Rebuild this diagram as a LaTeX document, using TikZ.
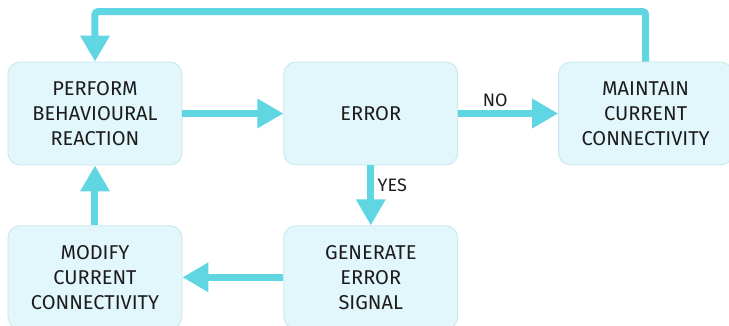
\documentclass[tikz,border=0pt]{standalone}
\usepackage{fontspec}
\setmainfont{Fira Sans}
\usepackage{tikz}
\usetikzlibrary{positioning,arrows.meta}
\usepackage{xcolor}
\definecolor{flowcyan}{RGB}{96,214,226}
\definecolor{boxfill}{RGB}{226,247,251}
\definecolor{boxline}{RGB}{198,230,238}
\definecolor{ink}{RGB}{28,28,28}

\begin{document}
\begin{tikzpicture}[x=1pt,y=1pt,
  box/.style={draw=boxline,fill=boxfill,line width=0.8pt,rounded corners=12pt,
    minimum width=174pt,minimum height=103pt,align=center,text=ink,
    font=\fontsize{20}{25}\selectfont},
  flow/.style={draw=flowcyan,line width=7pt,-{Triangle[length=26pt,width=28pt]}},
  lbl/.style={text=ink,font=\fontsize{18}{22}\selectfont}]
\useasboundingbox (-95,113.5) rectangle (634,-212.5);
% top row
\node[box] (perform) at (0,0) {PERFORM\\BEHAVIOURAL\\REACTION};
\node[box,right=101pt of perform] (error) {ERROR};
\node[box,right=100pt of error] (maintain) {MAINTAIN\\CURRENT\\CONNECTIVITY};
% bottom row
\node[box,below=60pt of error] (generate) {GENERATE\\ERROR\\SIGNAL};
\node[box,below=60pt of perform] (modify) {MODIFY\\CURRENT\\CONNECTIVITY};
% connectors
\draw[flow] (perform) -- (error);
\draw[flow] (error) -- node[lbl,above,pos=0.37]{NO} (maintain);
\draw[flow] (error) -- node[lbl,right,pos=0.33]{YES} (generate);
\draw[flow] (generate) -- (modify);
\draw[flow] (modify) -- (perform);
\draw[flow,rounded corners=3pt] (maintain.north) -- ++(0,50) -| (perform.north);
\end{tikzpicture}
\end{document}
